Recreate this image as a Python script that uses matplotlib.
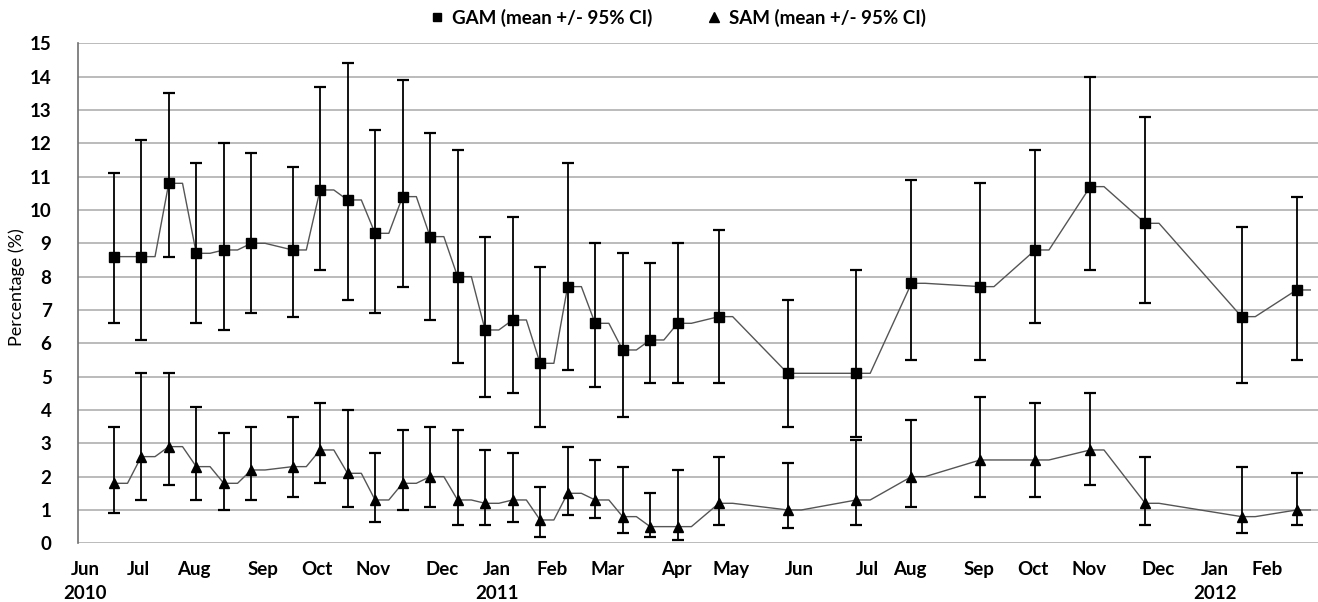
import numpy as np
import matplotlib
matplotlib.use("Agg")
import matplotlib.pyplot as plt
from matplotlib.lines import Line2D

plt.rcParams['font.family'] = ['Lato', 'DejaVu Sans']

# sampling positions (sequential sampling slots along the time axis)
x_slots = [0, 1, 2, 3, 4, 5, 6.5, 7.5, 8.5, 9.5, 10.5, 11.5, 12.5, 13.5, 14.5,
           15.5, 16.5, 17.5, 18.5, 19.5, 20.5, 22, 24.5, 27, 29, 31.5, 33.5,
           35.5, 37.5, 41, 43]

gam_mean = [8.6, 8.6, 10.8, 8.7, 8.8, 9.0, 8.8, 10.6, 10.3, 9.3, 10.4, 9.2, 8.0,
            6.4, 6.7, 5.4, 7.7, 6.6, 5.8, 6.1, 6.6, 6.8, 5.1, 5.1, 7.8, 7.7,
            8.8, 10.7, 9.6, 6.8, 7.6]
gam_upper = [11.1, 12.1, 13.5, 11.4, 12.0, 11.7, 11.3, 13.7, 14.4, 12.4, 13.9,
             12.3, 11.8, 9.2, 9.8, 8.3, 11.4, 9.0, 8.7, 8.4, 9.0, 9.4, 7.3, 8.2,
             10.9, 10.8, 11.8, 14.0, 12.8, 9.5, 10.4]
gam_lower = [6.6, 6.1, 8.6, 6.6, 6.4, 6.9, 6.8, 8.2, 7.3, 6.9, 7.7, 6.7, 5.4,
             4.4, 4.5, 3.5, 5.2, 4.7, 3.8, 4.8, 4.8, 4.8, 3.5, 3.2, 5.5, 5.5,
             6.6, 8.2, 7.2, 4.8, 5.5]

sam_mean = [1.8, 2.6, 2.9, 2.3, 1.8, 2.2, 2.3, 2.8, 2.1, 1.3, 1.8, 2.0, 1.3,
            1.2, 1.3, 0.7, 1.5, 1.3, 0.8, 0.5, 0.5, 1.2, 1.0, 1.3, 2.0, 2.5,
            2.5, 2.8, 1.2, 0.8, 1.0]
sam_upper = [3.5, 5.1, 5.1, 4.1, 3.3, 3.5, 3.8, 4.2, 4.0, 2.7, 3.4, 3.5, 3.4,
             2.8, 2.7, 1.7, 2.9, 2.5, 2.3, 1.5, 2.2, 2.6, 2.4, 3.1, 3.7, 4.4,
             4.2, 4.5, 2.6, 2.3, 2.1]
sam_lower = [0.9, 1.3, 1.75, 1.3, 1.0, 1.3, 1.4, 1.8, 1.1, 0.65, 1.0, 1.1, 0.55,
             0.55, 0.65, 0.2, 0.85, 0.75, 0.3, 0.2, 0.1, 0.55, 0.45, 0.55, 1.1,
             1.4, 1.4, 1.75, 0.55, 0.3, 0.55]

month_labels = ['Jun\n2010', 'Jul', 'Aug', 'Sep', 'Oct', 'Nov', 'Dec',
                'Jan\n2011', 'Feb', 'Mar', 'Apr', 'May', 'Jun', 'Jul', 'Aug',
                'Sep', 'Oct', 'Nov', 'Dec', 'Jan\n2012', 'Feb']
month_pos = [-1.05, 0.9, 2.92, 5.42, 7.39, 9.41, 11.94, 13.94, 15.92, 17.94,
             20.44, 22.44, 24.91, 27.38, 28.95, 31.44, 33.43, 35.44, 37.96,
             40.02, 41.93]

fig = plt.figure(figsize=(13.18, 6.02), dpi=100)
ax = fig.add_axes([78/1318, 1-543.3/602, 1-78/1318, (543.3-43.3)/602])

step_w = 0.5


def step_line(xs, ys):
    xs = np.asarray(xs, float)
    ys = np.asarray(ys, float)
    px, py = [], []
    for xi, yi in zip(xs, ys):
        px += [xi, xi + step_w]
        py += [yi, yi]
    return px, py


def draw(mean, lo, hi, marker, ms):
    mean = np.asarray(mean)
    lx, ly = step_line(x_slots, mean)
    ax.plot(lx, ly, color='#555555', lw=1.0, zorder=3)
    yerr = np.vstack([mean - np.asarray(lo), np.asarray(hi) - mean])
    ax.errorbar(x_slots, mean, yerr=yerr, fmt='none', ecolor='black',
                elinewidth=1.3, capsize=4, capthick=1.6, zorder=4)
    ax.plot(x_slots, mean, linestyle='none', marker=marker, ms=ms,
            color='black', zorder=5)


draw(gam_mean, gam_lower, gam_upper, 's', 7)
draw(sam_mean, sam_lower, sam_upper, '^', 7.5)

ax.set_xlim(-1.30, 43.78)
ax.set_ylim(0, 15)
ax.set_yticks(range(0, 16))
ax.set_yticklabels([str(v) for v in range(0, 16)], fontsize=13.5,
                   fontweight='bold')
ax.yaxis.grid(True, color='#b5b5b5', lw=1.3)
ax.set_axisbelow(True)
ax.tick_params(axis='y', length=0, pad=19)
ax.tick_params(axis='x', length=0, pad=13)
ax.set_xticks(month_pos)
ax.set_xticklabels(month_labels, fontsize=13.5, fontweight='bold',
                   linespacing=1.45)
for s in ['top', 'right', 'bottom']:
    ax.spines[s].set_visible(False)
ax.spines['left'].set_color('#707070')
ax.spines['left'].set_linewidth(1.2)

fig.text(17/1318, 1-287/602, 'Percentage (%)', rotation=90, fontsize=13,
         ha='center', va='center')

handles = [Line2D([], [], linestyle='none', marker='s', ms=6, color='black'),
           Line2D([], [], linestyle='none', marker='^', ms=7, color='black')]
fig.legend(handles, ['GAM (mean +/- 95% CI)', 'SAM (mean +/- 95% CI)'],
           loc='center', bbox_to_anchor=(679/1318, 1-18/602), ncol=2,
           frameon=False, handlelength=0.6, handletextpad=0.5,
           columnspacing=3.0, prop={'weight': 'bold', 'size': 13.5})

fig.savefig('out.png', dpi=100)
